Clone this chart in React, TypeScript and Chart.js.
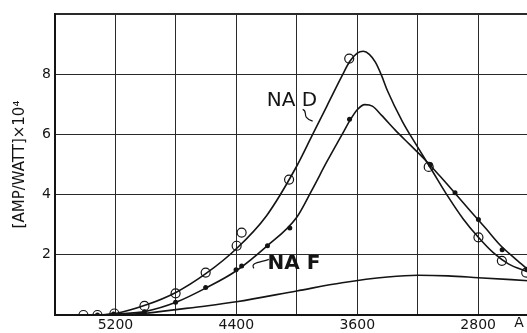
import React, { useEffect, useRef } from "react";
import { Chart, registerables } from "chart.js";

Chart.register(...registerables);

// Wavelength axis (Angstrom), reversed
const X_MIN = 2468;
const X_MAX = 5600;
const X_GRID = [2800, 3200, 3600, 4000, 4400, 4800, 5200, 5600];
const X_LABELED = [5200, 4400, 3600, 2800];
const Y_LABELED = [2, 4, 6, 8];

// NA D measured points (open circles)
const naDPtsX = [5412, 5319, 5207, 5008, 4802, 4603, 4398, 4365, 4051, 3653, 3127, 2798, 2643, 2482];
const naDPtsY = [0, 0, 0.05, 0.3, 0.72, 1.41, 2.3, 2.74, 4.5, 8.52, 4.92, 2.58, 1.8, 1.41];

// NA F measured points (filled dots)
const naFPtsX = [5319, 5213, 5008, 4802, 4603, 4402, 4365, 4194, 4046, 3651, 3116, 2953, 2798, 2641, 2477];
const naFPtsY = [0, 0.03, 0.11, 0.42, 0.91, 1.5, 1.63, 2.3, 2.89, 6.5, 5.0, 4.06, 3.17, 2.17, 1.52];

// NA D fitted curve
const naDCurveX = [5300, 5200, 5000, 4800, 4600, 4400, 4200, 4000, 3900, 3800, 3700, 3650, 3600, 3560, 3520, 3480, 3440, 3400, 3300, 3200, 3100, 3000, 2900, 2800, 2700, 2600, 2468];
const naDCurveY = [0, 0.05, 0.33, 0.75, 1.38, 2.2, 3.3, 4.95, 5.95, 6.95, 7.95, 8.42, 8.7, 8.76, 8.66, 8.4, 7.97, 7.45, 6.42, 5.58, 4.76, 3.94, 3.2, 2.59, 2.07, 1.7, 1.43];

// NA F fitted curve
const naFCurveX = [5300, 5200, 5000, 4800, 4600, 4400, 4200, 4000, 3900, 3800, 3700, 3650, 3600, 3550, 3500, 3440, 3350, 3250, 3150, 3050, 2950, 2850, 2750, 2650, 2550, 2468];
const naFCurveY = [0, 0.03, 0.12, 0.42, 0.9, 1.47, 2.28, 3.25, 4.15, 5.1, 6.0, 6.45, 6.82, 6.99, 6.94, 6.64, 6.15, 5.65, 5.15, 4.6, 4.03, 3.45, 2.88, 2.3, 1.85, 1.5];

// Third (unlabelled) curve
const lowCurveX = [5200, 5000, 4800, 4600, 4400, 4000, 3700, 3400, 3200, 3000, 2800, 2468];
const lowCurveY = [0, 0.06, 0.18, 0.3, 0.44, 0.8, 1.07, 1.26, 1.32, 1.3, 1.24, 1.14];

const FONT = "'DejaVu Sans', sans-serif";
const INK = "#141414";

const zip = (xs: number[], ys: number[]) => xs.map((x, i) => ({ x, y: ys[i] }));

const annotPlugin = {
  id: "annot",
  afterDatasetsDraw(chart: any) {
    const { ctx, scales } = chart;
    const x = scales.x;
    const y = scales.y;
    ctx.save();
    ctx.fillStyle = INK;
    ctx.strokeStyle = INK;
    ctx.textAlign = "center";
    ctx.textBaseline = "middle";
    ctx.font = `20px ${FONT}`;
    ctx.fillText("NA D", x.getPixelForValue(4032), y.getPixelForValue(7.1));
    ctx.font = `bold 20px ${FONT}`;
    ctx.fillText("NA F", x.getPixelForValue(4019), y.getPixelForValue(1.7));

    ctx.lineWidth = 1.2;
    // NA D leader
    const d0x = x.getPixelForValue(3961), d0y = y.getPixelForValue(6.83);
    const d1x = x.getPixelForValue(3895), d1y = y.getPixelForValue(6.44);
    ctx.beginPath();
    ctx.moveTo(d0x, d0y);
    ctx.bezierCurveTo(d0x + 6, d0y + 2, d0x - 2, d1y - 4, d1x, d1y);
    ctx.stroke();
    // NA F leader
    const f0x = x.getPixelForValue(4284), f0y = y.getPixelForValue(1.55);
    const f1x = x.getPixelForValue(4185), f1y = y.getPixelForValue(1.85);
    ctx.beginPath();
    ctx.moveTo(f0x, f0y);
    ctx.bezierCurveTo(f0x - 4, f0y - 6, f1x - 8, f1y + 3, f1x, f1y);
    ctx.stroke();

    // unit "A" after the 2800 label
    ctx.font = `14px ${FONT}`;
    ctx.fillText("A", x.getPixelForValue(2800) + 41, y.bottom + 8);
    ctx.restore();
  },
};

export default function App() {
  const ref = useRef<HTMLCanvasElement | null>(null);

  useEffect(() => {
    if (!ref.current) return;
    const lineDs = (xs: number[], ys: number[]) => ({
      data: zip(xs, ys),
      showLine: true,
      borderColor: INK,
      borderWidth: 1.6,
      pointRadius: 0,
      cubicInterpolationMode: "monotone" as const,
      fill: false,
    });
    const chart = new Chart(ref.current, {
      type: "scatter",
      data: {
        datasets: [
          lineDs(naDCurveX, naDCurveY),
          lineDs(naFCurveX, naFCurveY),
          lineDs(lowCurveX, lowCurveY),
          {
            data: zip(naDPtsX, naDPtsY),
            showLine: false,
            pointRadius: 4.5,
            pointBorderWidth: 1.2,
            pointBorderColor: INK,
            pointBackgroundColor: "rgba(0,0,0,0)",
          },
          {
            data: zip(naFPtsX, naFPtsY),
            showLine: false,
            pointRadius: 2.5,
            pointBorderWidth: 0,
            pointBorderColor: INK,
            pointBackgroundColor: INK,
          },
        ],
      },
      options: {
        animation: false,
        responsive: true,
        maintainAspectRatio: false,
        devicePixelRatio: 1,
        layout: { padding: { top: 14, right: 0, left: 0, bottom: 0 } },
        plugins: { legend: { display: false }, tooltip: { enabled: false } },
        scales: {
          x: {
            type: "linear",
            min: X_MIN,
            max: X_MAX,
            reverse: true,
            afterBuildTicks: (scale: any) => {
              scale.ticks = X_GRID.map((v) => ({ value: v }));
            },
            afterFit: (scale: any) => {
              scale.height = 18;
              scale.paddingLeft = 0;
              scale.paddingRight = 0;
            },
            ticks: {
              autoSkip: false,
              maxRotation: 0,
              padding: 2,
              color: INK,
              font: { family: FONT, size: 14 },
              callback: (v: any) => (X_LABELED.includes(Number(v)) ? String(v) : ""),
            },
            grid: { color: "#2a2a2a", lineWidth: 1, drawTicks: false },
            border: { display: true, color: INK, width: 2 },
          },
          y: {
            type: "linear",
            min: 0,
            max: 10,
            afterFit: (scale: any) => {
              scale.width = 55;
              scale.paddingTop = 0;
              scale.paddingBottom = 0;
            },
            ticks: {
              stepSize: 2,
              padding: 4,
              color: INK,
              font: { family: FONT, size: 14 },
              callback: (v: any) => (Y_LABELED.includes(Number(v)) ? String(v) : ""),
            },
            grid: {
              color: "#2a2a2a",
              lineWidth: (c: any) => (c.tick && c.tick.value === 10 ? 2 : 1),
              drawTicks: false,
            },
            border: { display: true, color: INK, width: 2 },
            title: {
              display: true,
              text: "[AMP/WATT]×10⁴",
              color: INK,
              font: { family: FONT, size: 15 },
              padding: { top: 11, bottom: 0 },
            },
          },
        },
      },
      plugins: [annotPlugin],
    });
    return () => chart.destroy();
  }, []);

  return (
    <div style={{ position: "fixed", left: 0, top: 0, width: 534, height: 333, background: "#fff" }}>
      <canvas ref={ref} />
    </div>
  );
}
